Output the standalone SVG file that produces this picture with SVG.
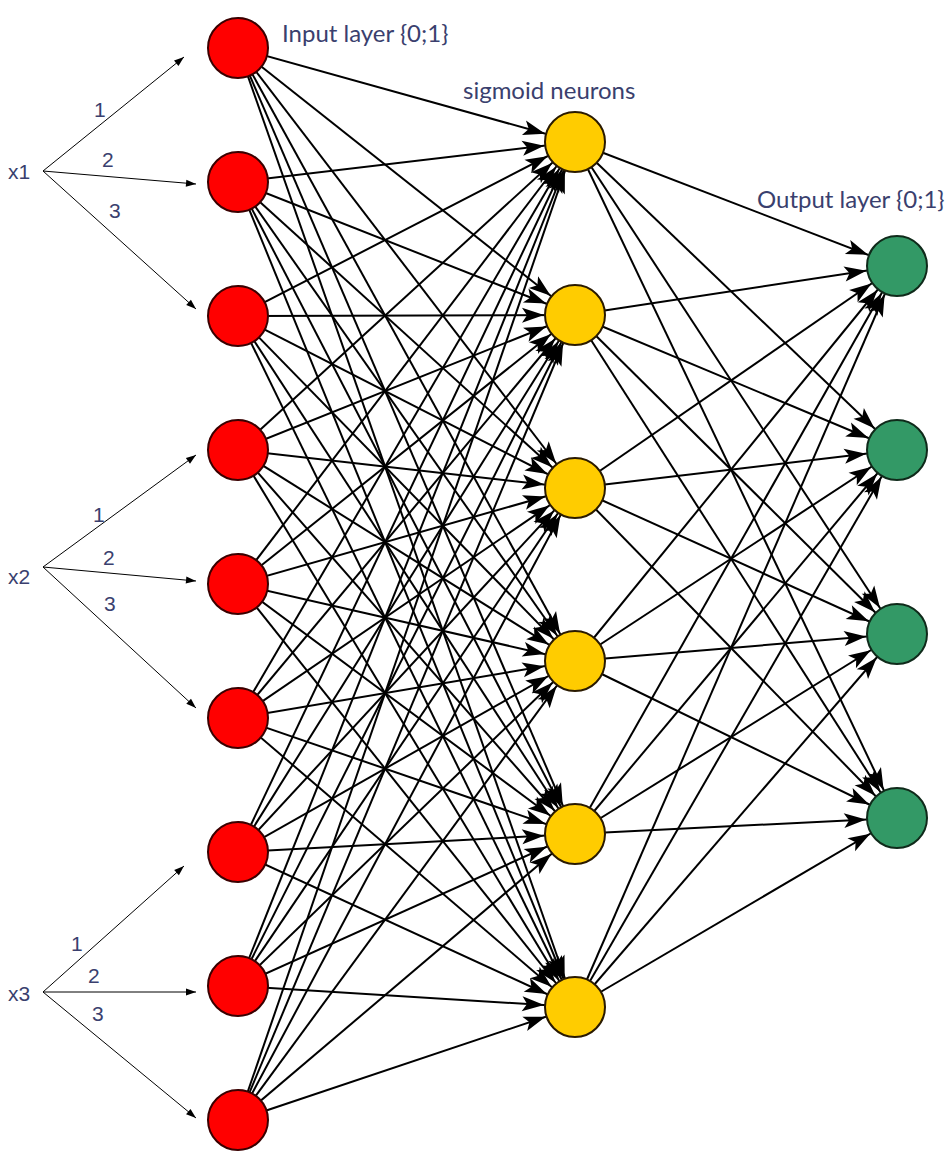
<svg xmlns="http://www.w3.org/2000/svg" width="950" height="1168" viewBox="0 0 950 1168">
<style>
.c{stroke:#000;stroke-width:2;marker-end:url(#ah)}
.in{stroke:#000;stroke-width:1;marker-end:url(#sa)}
.red{fill:#ff0000;stroke:#3a0000;stroke-width:2}
.yel{fill:#ffcc00;stroke:#2a1a00;stroke-width:2}
.grn{fill:#339966;stroke:#0f2a1a;stroke-width:2}
.lbl{font-family:Lato,"Liberation Sans",sans-serif;font-size:24px;fill:#3a3f6e}
.xl{font-family:"Liberation Sans",Arial,sans-serif;font-size:21px;fill:#3a3f6e}
</style>
<defs>
<marker id="ah" markerUnits="userSpaceOnUse" markerWidth="22" markerHeight="15" refX="53" refY="7.5" orient="auto" overflow="visible"><path d="M0,0 L22,7.5 L0,15 L5,7.5 z" fill="#000"/></marker>
<marker id="sa" markerUnits="userSpaceOnUse" markerWidth="10" markerHeight="7" refX="10" refY="3.5" orient="auto" overflow="visible"><path d="M0,0 L10,3.5 L0,7 z" fill="#000"/></marker>
</defs>
<rect width="950" height="1168" fill="#fff"/>
<g id="connectors">
<line class="in" x1="43" y1="171" x2="184" y2="57"/>
<line class="in" x1="43" y1="171" x2="196" y2="184"/>
<line class="in" x1="43" y1="171" x2="196" y2="309"/>
<line class="in" x1="43" y1="567" x2="196" y2="455"/>
<line class="in" x1="43" y1="567" x2="196" y2="581"/>
<line class="in" x1="43" y1="567" x2="196" y2="708"/>
<line class="in" x1="43" y1="992" x2="184" y2="866"/>
<line class="in" x1="43" y1="992" x2="196" y2="992"/>
<line class="in" x1="43" y1="992" x2="196" y2="1118"/>
<line class="c" x1="238" y1="48" x2="575" y2="142"/><line class="c" x1="238" y1="48" x2="575" y2="315"/><line class="c" x1="238" y1="48" x2="575" y2="488"/><line class="c" x1="238" y1="48" x2="575" y2="661"/><line class="c" x1="238" y1="48" x2="575" y2="834"/><line class="c" x1="238" y1="48" x2="575" y2="1007"/>
<line class="c" x1="238" y1="182" x2="575" y2="142"/><line class="c" x1="238" y1="182" x2="575" y2="315"/><line class="c" x1="238" y1="182" x2="575" y2="488"/><line class="c" x1="238" y1="182" x2="575" y2="661"/><line class="c" x1="238" y1="182" x2="575" y2="834"/><line class="c" x1="238" y1="182" x2="575" y2="1007"/>
<line class="c" x1="238" y1="316" x2="575" y2="142"/><line class="c" x1="238" y1="316" x2="575" y2="315"/><line class="c" x1="238" y1="316" x2="575" y2="488"/><line class="c" x1="238" y1="316" x2="575" y2="661"/><line class="c" x1="238" y1="316" x2="575" y2="834"/><line class="c" x1="238" y1="316" x2="575" y2="1007"/>
<line class="c" x1="238" y1="450" x2="575" y2="142"/><line class="c" x1="238" y1="450" x2="575" y2="315"/><line class="c" x1="238" y1="450" x2="575" y2="488"/><line class="c" x1="238" y1="450" x2="575" y2="661"/><line class="c" x1="238" y1="450" x2="575" y2="834"/><line class="c" x1="238" y1="450" x2="575" y2="1007"/>
<line class="c" x1="238" y1="584" x2="575" y2="142"/><line class="c" x1="238" y1="584" x2="575" y2="315"/><line class="c" x1="238" y1="584" x2="575" y2="488"/><line class="c" x1="238" y1="584" x2="575" y2="661"/><line class="c" x1="238" y1="584" x2="575" y2="834"/><line class="c" x1="238" y1="584" x2="575" y2="1007"/>
<line class="c" x1="238" y1="718" x2="575" y2="142"/><line class="c" x1="238" y1="718" x2="575" y2="315"/><line class="c" x1="238" y1="718" x2="575" y2="488"/><line class="c" x1="238" y1="718" x2="575" y2="661"/><line class="c" x1="238" y1="718" x2="575" y2="834"/><line class="c" x1="238" y1="718" x2="575" y2="1007"/>
<line class="c" x1="238" y1="852" x2="575" y2="142"/><line class="c" x1="238" y1="852" x2="575" y2="315"/><line class="c" x1="238" y1="852" x2="575" y2="488"/><line class="c" x1="238" y1="852" x2="575" y2="661"/><line class="c" x1="238" y1="852" x2="575" y2="834"/><line class="c" x1="238" y1="852" x2="575" y2="1007"/>
<line class="c" x1="238" y1="986" x2="575" y2="142"/><line class="c" x1="238" y1="986" x2="575" y2="315"/><line class="c" x1="238" y1="986" x2="575" y2="488"/><line class="c" x1="238" y1="986" x2="575" y2="661"/><line class="c" x1="238" y1="986" x2="575" y2="834"/><line class="c" x1="238" y1="986" x2="575" y2="1007"/>
<line class="c" x1="238" y1="1120" x2="575" y2="142"/><line class="c" x1="238" y1="1120" x2="575" y2="315"/><line class="c" x1="238" y1="1120" x2="575" y2="488"/><line class="c" x1="238" y1="1120" x2="575" y2="661"/><line class="c" x1="238" y1="1120" x2="575" y2="834"/><line class="c" x1="238" y1="1120" x2="575" y2="1007"/>
<line class="c" x1="575" y1="142" x2="897" y2="266"/><line class="c" x1="575" y1="142" x2="897" y2="450"/><line class="c" x1="575" y1="142" x2="897" y2="634"/><line class="c" x1="575" y1="142" x2="897" y2="818"/>
<line class="c" x1="575" y1="315" x2="897" y2="266"/><line class="c" x1="575" y1="315" x2="897" y2="450"/><line class="c" x1="575" y1="315" x2="897" y2="634"/><line class="c" x1="575" y1="315" x2="897" y2="818"/>
<line class="c" x1="575" y1="488" x2="897" y2="266"/><line class="c" x1="575" y1="488" x2="897" y2="450"/><line class="c" x1="575" y1="488" x2="897" y2="634"/><line class="c" x1="575" y1="488" x2="897" y2="818"/>
<line class="c" x1="575" y1="661" x2="897" y2="266"/><line class="c" x1="575" y1="661" x2="897" y2="450"/><line class="c" x1="575" y1="661" x2="897" y2="634"/><line class="c" x1="575" y1="661" x2="897" y2="818"/>
<line class="c" x1="575" y1="834" x2="897" y2="266"/><line class="c" x1="575" y1="834" x2="897" y2="450"/><line class="c" x1="575" y1="834" x2="897" y2="634"/><line class="c" x1="575" y1="834" x2="897" y2="818"/>
<line class="c" x1="575" y1="1007" x2="897" y2="266"/><line class="c" x1="575" y1="1007" x2="897" y2="450"/><line class="c" x1="575" y1="1007" x2="897" y2="634"/><line class="c" x1="575" y1="1007" x2="897" y2="818"/>
</g>
<g id="input-labels">
<text class="xl" x="8" y="179">x1</text>
<text class="xl" x="94" y="117">1</text>
<text class="xl" x="102" y="167">2</text>
<text class="xl" x="109" y="218">3</text>
<text class="xl" x="8" y="584">x2</text>
<text class="xl" x="93" y="522">1</text>
<text class="xl" x="103" y="565">2</text>
<text class="xl" x="104" y="611">3</text>
<text class="xl" x="8" y="1001">x3</text>
<text class="xl" x="71" y="951">1</text>
<text class="xl" x="88" y="983">2</text>
<text class="xl" x="92" y="1021">3</text>
</g>
<g id="input-layer">
<circle id="i1" class="red" cx="238" cy="48" r="30"/>
<circle id="i2" class="red" cx="238" cy="182" r="30"/>
<circle id="i3" class="red" cx="238" cy="316" r="30"/>
<circle id="i4" class="red" cx="238" cy="450" r="30"/>
<circle id="i5" class="red" cx="238" cy="584" r="30"/>
<circle id="i6" class="red" cx="238" cy="718" r="30"/>
<circle id="i7" class="red" cx="238" cy="852" r="30"/>
<circle id="i8" class="red" cx="238" cy="986" r="30"/>
<circle id="i9" class="red" cx="238" cy="1120" r="30"/>
<text class="lbl" x="282" y="42">Input layer {0;1}</text>
</g>
<g id="hidden-layer">
<circle id="h1" class="yel" cx="575" cy="142" r="30"/>
<circle id="h2" class="yel" cx="575" cy="315" r="30"/>
<circle id="h3" class="yel" cx="575" cy="488" r="30"/>
<circle id="h4" class="yel" cx="575" cy="661" r="30"/>
<circle id="h5" class="yel" cx="575" cy="834" r="30"/>
<circle id="h6" class="yel" cx="575" cy="1007" r="30"/>
<text class="lbl" x="463" y="99">sigmoid neurons</text>
</g>
<g id="output-layer">
<circle id="o1" class="grn" cx="897" cy="266" r="30"/>
<circle id="o2" class="grn" cx="897" cy="450" r="30"/>
<circle id="o3" class="grn" cx="897" cy="634" r="30"/>
<circle id="o4" class="grn" cx="897" cy="818" r="30"/>
<text class="lbl" x="757" y="208">Output layer {0;1}</text>
</g>
</svg>
